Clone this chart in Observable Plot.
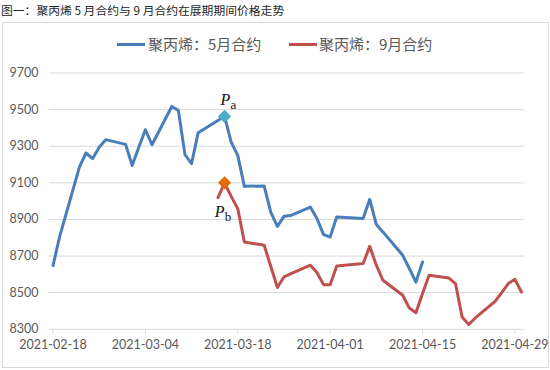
<!DOCTYPE html>
<html>
<head>
<meta charset="utf-8">
<script src="https://cdn.jsdelivr.net/npm/d3@7"></script>
<script src="https://cdn.jsdelivr.net/npm/@observablehq/plot@0.6"></script>
<style>
  html, body { margin: 0; padding: 0; background: #fff; }
  body { width: 550px; height: 370px; position: relative; overflow: hidden; font-family: "Noto Sans CJK SC", sans-serif; }
  #title { position: absolute; left: 1px; top: 2px; font-size: 11.8px; line-height: 16px; color: #262626; white-space: nowrap; }
  #box { position: absolute; left: 2px; top: 22px; width: 545px; height: 344px; border: 1px solid #d9d9d9; }
  .sw { position: absolute; height: 3px; width: 28px; top: 42.5px; }
  .lt { position: absolute; top: 34px; font-size: 15px; line-height: 20px; color: #595959; white-space: nowrap; }
  #chart { position: absolute; left: 0; top: 56px; }
</style>
</head>
<body>
<div id="title">图一：聚丙烯 5 月合约与 9 月合约在展期期间价格走势</div>
<div id="box"></div>
<div class="sw" style="left:117px;background:#4a7ebb"></div>
<div class="lt" style="left:148px">聚丙烯：5月合约</div>
<div class="sw" style="left:289px;background:#c0504d"></div>
<div class="lt" style="left:319px">聚丙烯：9月合约</div>
<div id="chart"></div>
<script>
// ---- data ----
const seriesNames = ["聚丙烯：5月合约", "聚丙烯：9月合约"];

const blueDates = [
  "2021-02-18","2021-02-19","2021-02-22","2021-02-23","2021-02-24","2021-02-25","2021-02-26",
  "2021-03-01","2021-03-02","2021-03-03","2021-03-04","2021-03-05",
  "2021-03-08","2021-03-09","2021-03-10","2021-03-11","2021-03-12",
  "2021-03-15","2021-03-16","2021-03-17","2021-03-18","2021-03-19",
  "2021-03-22","2021-03-23","2021-03-24","2021-03-25","2021-03-26",
  "2021-03-29","2021-03-30","2021-03-31","2021-04-01","2021-04-02",
  "2021-04-06","2021-04-07","2021-04-08","2021-04-09",
  "2021-04-12","2021-04-13","2021-04-14","2021-04-15"
];
const blueValues = [
  8648, 8805, 9186, 9263, 9232, 9295, 9336,
  9310, 9195, 9295, 9390, 9308,
  9517, 9496, 9254, 9205, 9374,
  9441, 9463, 9323, 9250, 9081,
  9083, 8940, 8862, 8917, 8921,
  8968, 8905, 8817, 8804, 8913,
  8905, 9010, 8872, 8832,
  8704, 8632, 8558, 8668
];

const redDates = [
  "2021-03-15","2021-03-16","2021-03-17","2021-03-18","2021-03-19",
  "2021-03-22","2021-03-23","2021-03-24","2021-03-25","2021-03-26",
  "2021-03-29","2021-03-30","2021-03-31","2021-04-01","2021-04-02",
  "2021-04-06","2021-04-07","2021-04-08","2021-04-09",
  "2021-04-12","2021-04-13","2021-04-14","2021-04-15","2021-04-16",
  "2021-04-19","2021-04-20","2021-04-21","2021-04-22","2021-04-23",
  "2021-04-26","2021-04-27","2021-04-28","2021-04-29","2021-04-30"
];
const redValues = [
  9019, 9099, 9026, 8959, 8777,
  8759, 8644, 8528, 8586, 8603,
  8650, 8610, 8544, 8544, 8646,
  8659, 8753, 8650, 8568,
  8486, 8416, 8390, 8495, 8595,
  8580, 8550, 8367, 8326, 8362,
  8453, 8500, 8550, 8573, 8504
];

const markerDates = ["2021-03-16", "2021-03-16"];
const markerValues = [9463, 9100];
const markerSubs = ["a", "b"];

const yTicks = [8300, 8500, 8700, 8900, 9100, 9300, 9500, 9700];
const xTickLabels = ["2021-02-18","2021-03-04","2021-03-18","2021-04-01","2021-04-15","2021-04-29"];
const xDomain = ["2021-02-18", "2021-04-30"];

// ---- build ----
const parse = d3.utcParse("%Y-%m-%d");
const blue = blueDates.map((d, i) => ({date: parse(d), value: blueValues[i]}));
const red = redDates.map((d, i) => ({date: parse(d), value: redValues[i]}));
const markers = markerDates.map((d, i) => ({date: parse(d), value: markerValues[i], sub: markerSubs[i]}));
const xTicks = xTickLabels.map(parse);

const serif = "'Liberation Serif', 'DejaVu Serif', serif";

const chart = Plot.plot({
  width: 550,
  height: 306,
  marginLeft: 49,
  marginRight: 26,
  marginTop: 16.5,
  marginBottom: 33.2,
  x: {type: "utc", domain: xDomain.map(parse), insetLeft: 3.5, insetRight: 3},
  y: {domain: [8300, 9700]},
  style: {fontFamily: "Lato, 'Liberation Sans', sans-serif", fontSize: "12px", background: "transparent", overflow: "visible"},
  marks: [
    Plot.ruleY(yTicks, {stroke: "#d9d9d9", strokeWidth: 1}),
    Plot.axisY({ticks: yTicks, tickSize: 0, tickPadding: 11, tickFormat: d => String(d), label: null, fill: "#595959", fontSize: 12.5}),
    Plot.axisX({ticks: xTicks, tickSize: 5, tickPadding: 6, tickFormat: d3.utcFormat("%Y-%m-%d"), label: null, stroke: "#d9d9d9", fill: "#595959", fontSize: 12.5}),
    Plot.line(blue, {x: "date", y: "value", stroke: "#4a7ebb", strokeWidth: 3, strokeLinejoin: "round", strokeLinecap: "round"}),
    Plot.line(red, {x: "date", y: "value", stroke: "#c0504d", strokeWidth: 3, strokeLinejoin: "round", strokeLinecap: "round"}),
    Plot.dot([markers[0]], {x: "date", y: "value", symbol: "diamond2", r: 5.9, fill: "#4bacc6", stroke: "none"}),
    Plot.dot([markers[1]], {x: "date", y: "value", symbol: "diamond2", r: 5.9, fill: "#e36c09", stroke: "none"}),
    Plot.text([markers[0]], {x: "date", y: "value", text: () => "P", fontStyle: "italic", fontFamily: serif, fontSize: 16, fill: "#111", textAnchor: "start", lineAnchor: "bottom", dx: -4, dy: -11}),
    Plot.text([markers[0]], {x: "date", y: "value", text: "sub", fontFamily: serif, fontSize: 13, fill: "#111", textAnchor: "start", lineAnchor: "bottom", dx: 6, dy: -7.6}),
    Plot.text([markers[1]], {x: "date", y: "value", text: () => "P", fontStyle: "italic", fontFamily: serif, fontSize: 16, fill: "#111", textAnchor: "start", lineAnchor: "bottom", dx: -9.8, dy: 34.3}),
    Plot.text([markers[1]], {x: "date", y: "value", text: "sub", fontFamily: serif, fontSize: 13, fill: "#111", textAnchor: "start", lineAnchor: "bottom", dx: 0.2, dy: 38.3})
  ]
});
document.getElementById("chart").appendChild(chart);
</script>
</body>
</html>
